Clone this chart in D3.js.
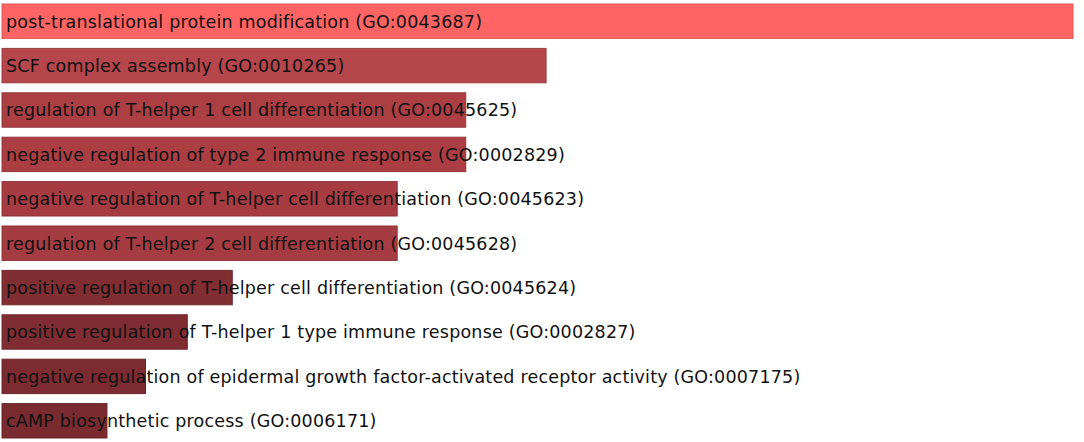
<!DOCTYPE html>
<html>
<head>
<meta charset="utf-8">
<script src="https://cdn.jsdelivr.net/npm/d3@7"></script>
<style>
  html, body { margin: 0; padding: 0; background: #fff; }
  svg { display: block; }
  .term { font-family: "DejaVu Sans", Verdana, sans-serif; font-size: 17.5px; letter-spacing: 0.2px; fill: #111; }
</style>
</head>
<body>
<div id="chart"></div>
<script>
// GO enrichment bar chart — terms ranked by score, bar colour by rank group

const W = 1084, H = 442;

// term labels (top to bottom)
const terms = [
  "post-translational protein modification (GO:0043687)",
  "SCF complex assembly (GO:0010265)",
  "regulation of T-helper 1 cell differentiation (GO:0045625)",
  "negative regulation of type 2 immune response (GO:0002829)",
  "negative regulation of T-helper cell differentiation (GO:0045623)",
  "regulation of T-helper 2 cell differentiation (GO:0045628)",
  "positive regulation of T-helper cell differentiation (GO:0045624)",
  "positive regulation of T-helper 1 type immune response (GO:0002827)",
  "negative regulation of epidermal growth factor-activated receptor activity (GO:0007175)",
  "cAMP biosynthetic process (GO:0006171)"
];

// relative enrichment score
const scores = [100, 50.8, 43.3, 43.3, 36.9, 36.9, 21.5, 17.3, 13.4, 9.8];

// bar fills, top to bottom
const fills = ["#fe6464", "#b5464b", "#ab3f44", "#aa3e43", "#a63c41", "#a53c41",
               "#812e33", "#7f2d32", "#7c2c31", "#7a2b2f"];

const svg = d3.select("#chart").append("svg")
  .attr("width", W)
  .attr("height", H);

const x = d3.scaleLinear()
  .domain([0, d3.max(scores)])
  .range([2, 1073]);

const y = d3.scaleBand()
  .domain(terms)
  .range([4, 438])
  .paddingInner(0.225)
  .paddingOuter(0);

const rows = terms.map((t, i) => ({ term: t, score: scores[i], fill: fills[i] }));

svg.selectAll("rect.bar")
  .data(rows)
  .enter().append("rect")
  .attr("class", "bar")
  .attr("x", x(0))
  .attr("y", d => y(d.term))
  .attr("width", d => x(d.score) - x(0))
  .attr("height", y.bandwidth())
  .attr("fill", d => d.fill)
  .attr("stroke", d => d3.color(d.fill).darker(0.4))
  .attr("stroke-width", 1);

svg.selectAll("text.term")
  .data(rows)
  .enter().append("text")
  .attr("class", "term")
  .attr("x", 6)
  .attr("y", d => y(d.term) + y.bandwidth() / 2)
  .attr("dy", "0.37em")
  .text(d => d.term);
</script>
</body>
</html>
